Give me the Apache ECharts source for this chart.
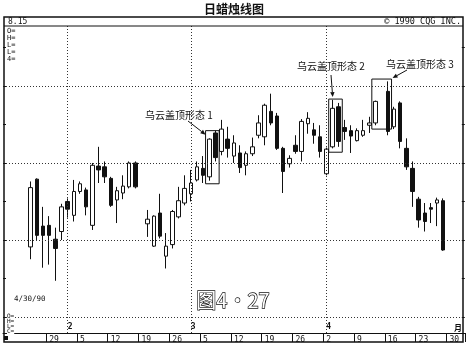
<!DOCTYPE html>
<html><head><meta charset="utf-8">
<script src="https://cdn.jsdelivr.net/npm/echarts@6/dist/echarts.min.js"></script>
<style>html,body{margin:0;padding:0;background:#fff}#c{width:469px;height:348px}</style>
</head><body><div id="c"></div>
<script>
// trading days shown in the window (blank slots = holidays / empty window space)
const categories = ['1/18','1/19','1/22','1/23',
 '1/24','1/25','1/26','1/29','1/30','1/31',
 '2/1','2/2','2/5','2/6','2/7','2/8','2/9','2/12','2/13','2/14','2/15','2/16','2/19','2/20','2/21','2/22','2/23','2/26','2/27','2/28',
 '3/1','3/2','3/5','3/6','3/7','3/8','3/9','3/12','3/13','3/14','3/15','3/16','3/19','3/20','3/21','3/22','3/23','3/26','3/27','3/28','3/29','3/30',
 '4/2','4/3','4/4','4/5','4/6','4/9','4/10','4/11','4/12','4/13','4/16','4/17','4/18','4/19','4/20','4/23','4/24','4/25','4/26','4/27',
 '4/30','5/1','5/2'];
const N = null;
const open = [N,N,N,N,
 109.1,117.9,111.8,111.9,110.1,111.1,115.0,113.2,116.3,116.5,111.9,119.6,119.5,118.0,115.2,116.1,116.9,120.0,N,
 112.1,109.2,113.5,107.9,109.4,113.0,114.8,116.0,117.8,119.3,118.2,123.9,121.5,123.1,120.9,121.3,119.7,121.2,123.6,123.4,
 126.7,126.1,121.9,119.9,122.3,121.5,125.1,124.3,123.4,118.6,122.1,127.3,124.6,124.2,122.9,123.6,124.9,125.2,N,
 129.3,124.7,127.8,121.9,119.3,115.3,113.5,114.2,114.8,115.1,
 N,N,N];
const close = [N,N,N,N,
 116.8,110.6,110.6,110.6,108.9,114.3,114.0,116.3,117.3,114.3,119.7,119.1,118.2,114.5,116.4,117.0,120.0,116.9,N,
 112.7,113.1,110.5,109.2,113.7,115.1,116.7,117.4,119.5,118.4,123.1,120.7,124.4,121.9,122.6,119.4,121.2,122.1,125.2,127.5,
 125.2,121.9,118.9,120.6,121.5,125.4,125.8,123.6,121.5,121.8,127.1,122.8,124.1,123.5,124.2,124.2,125.2,128.0,N,
 124.1,127.0,122.8,119.5,116.3,112.6,112.4,114.0,115.2,108.7,
 N,N,N];
const low = [N,N,N,N,
 107.5,110.0,106.4,106.8,104.7,110.0,112.9,112.4,116.0,113.2,111.3,117.4,117.4,114.3,112.2,115.3,116.7,116.7,N,
 110.4,109.1,110.2,106.3,108.9,112.8,114.5,115.0,117.6,117.4,117.7,120.2,121.0,120.7,120.0,118.7,118.4,120.9,123.2,122.3,
 124.9,121.7,116.1,119.4,121.2,120.2,123.8,122.5,120.7,118.4,121.9,122.1,123.0,121.3,122.8,123.4,123.9,124.9,N,
 123.6,124.4,121.9,119.1,114.3,111.6,111.1,112.2,111.8,108.6,
 N,N,N];
const high = [N,N,N,N,
 117.6,118.0,114.3,113.1,111.6,114.7,115.4,117.8,117.6,116.8,120.0,122.1,120.2,118.2,116.9,118.4,120.2,120.2,N,
 113.9,113.2,116.0,110.9,113.9,116.9,118.4,119.1,120.2,120.9,123.2,124.2,125.6,124.7,123.6,122.3,121.5,123.3,126.2,127.7,
 129.0,126.5,122.1,121.0,123.6,125.7,126.6,125.2,124.9,122.0,128.2,127.8,125.6,124.9,124.5,125.6,126.0,128.1,N,
 130.6,127.3,128.0,123.2,120.2,115.6,114.8,114.8,115.5,115.4,
 N,N,N];

const weekStarts = ['1/29','2/5','2/12','2/19','2/26','3/5','3/12','3/19','3/26','4/2','4/9','4/16','4/23','4/30'];
const weekLabels = ['29','5','12','19','26','5','12','19','26','2','9','16','23','30'];
const monthStarts = ['2/1','3/1','4/2'];
const monthLabels = ['2','3','4'];
const gridValues = [100,110,120,130];
const tickValues = [100,105,110,115,120,125,130,135];

const patterns = [
  {from:'3/6', to:'3/7', low:117.3, high:124.2, label:'乌云盖顶形态 1'},
  {from:'4/3', to:'4/4', low:121.4, high:128.3, label:'乌云盖顶形态 2'},
  {from:'4/12', to:'4/16', low:124.4, high:130.9, label:'乌云盖顶形态 3'}
];

const candles = categories.map((c,i)=> open[i]==null ? '-' : [open[i], close[i], low[i], high[i]]);

const ink = '#111';
const mono = 'DejaVu Sans Mono';
const chart = echarts.init(document.getElementById('c'));

const yCommon = {type:'value', min:97.92, max:137.79, axisLine:{show:false}, axisLabel:{show:false},
  splitLine:{show:false}, axisTick:{show:true, inside:true, length:3, customValues:tickValues, lineStyle:{color:ink}}};

chart.setOption({
  animation:false,
  backgroundColor:'#fff',
  grid:{left:3, right:4.2, top:26, bottom:15, outerBoundsMode:'none', containLabel:false},
  xAxis:[{
    type:'category', data:categories, boundaryGap:true,
    axisLine:{show:true, lineStyle:{color:ink, width:1}},
    axisTick:{show:true, length:9, interval:(i,v)=>weekStarts.includes(v), lineStyle:{color:ink, width:1}},
    axisLabel:{show:true, interval:(i,v)=>weekStarts.includes(v), formatter:v=>weekLabels[weekStarts.indexOf(v)],
      align:'left', margin:3, fontFamily:mono, fontSize:8, color:ink},
    splitLine:{show:false}
  },{
    type:'category', data:categories, position:'bottom', boundaryGap:true,
    axisLine:{show:false}, axisTick:{show:false}, splitLine:{show:false},
    axisLabel:{show:true, inside:true, interval:(i,v)=>monthStarts.includes(v),
      formatter:v=>monthLabels[monthStarts.indexOf(v)], align:'left', margin:2,
      fontFamily:mono, fontWeight:'bold', fontSize:8, color:ink}
  }],
  yAxis:[Object.assign({position:'left'}, yCommon), Object.assign({position:'right'}, yCommon)],
  series:[{
    type:'candlestick', data:candles, barWidth:4,
    itemStyle:{color:'#fff', color0:ink, borderColor:ink, borderColor0:ink, borderWidth:1},
    markLine:{silent:true, symbol:'none', label:{show:false},
      lineStyle:{color:'#333', type:[1,2], width:1},
      data: gridValues.map(v=>({yAxis:v})).concat(monthStarts.map(m=>({xAxis:m})))
    }
  }]
});

function px(cat, val){ return chart.convertToPixel({xAxisIndex:0, yAxisIndex:0}, [cat, val]); }
function arrow(x1,y1,x2,y2){
  const a=Math.atan2(y2-y1,x2-x1), L=5, W=2.2;
  const bx=x2-L*Math.cos(a), by=y2-L*Math.sin(a);
  const nx=-Math.sin(a)*W, ny=Math.cos(a)*W;
  return [{type:'line', shape:{x1:x1,y1:y1,x2:bx,y2:by}, style:{stroke:ink,lineWidth:1}, z:20},
          {type:'polygon', shape:{points:[[x2,y2],[bx+nx,by+ny],[bx-nx,by-ny]]}, style:{fill:ink}, z:20}];
}

const g = [];
g.push({type:'rect', shape:{x:4,y:17,width:459,height:325}, style:{fill:'none', stroke:ink, lineWidth:1.5}, z:20});
g.push({type:'line', shape:{x1:4,y1:26,x2:463,y2:26}, style:{stroke:ink, lineWidth:1}, z:20});
g.push({type:'text', x:234, y:9, style:{text:'日蜡烛线图', font:'bold 12px "Noto Sans CJK SC"', fill:ink, align:'center', verticalAlign:'middle'}, z:20});
g.push({type:'text', x:8, y:22, style:{text:'8.15', font:'8px "DejaVu Sans Mono"', fill:ink, verticalAlign:'middle'}, z:20});
g.push({type:'text', x:461, y:22, style:{text:'© 1990 CQG INC.', font:'8.5px "DejaVu Sans Mono"', fill:ink, align:'right', verticalAlign:'middle'}, z:20});
['O=','H=','L=','L=','4='].forEach((t,i)=>g.push({type:'text', x:7, y:31+i*7, style:{text:t, font:'7px "DejaVu Sans Mono"', fill:ink, verticalAlign:'middle'}, z:20}));
['O=','H=','L=','C='].forEach((t,i)=>g.push({type:'text', x:7, y:316+i*5, style:{text:t, font:'6px "DejaVu Sans Mono"', fill:ink, verticalAlign:'middle', backgroundColor:'#fff'}, z:20}));
g.push({type:'text', x:14, y:299, style:{text:'4/30/90', font:'7.5px "DejaVu Sans Mono"', fill:ink, verticalAlign:'middle'}, z:20});
g.push({type:'text', x:233, y:300, style:{text:'图4・27', font:'20px "Noto Sans CJK SC"', fill:'#fff', stroke:ink, lineWidth:1.3, align:'center', verticalAlign:'middle'}, z:20});
g.push({type:'text', x:458, y:328, style:{text:'月', font:'bold 8px "Noto Sans CJK SC"', fill:ink, align:'center', verticalAlign:'middle'}, z:20});
g.push({type:'rect', shape:{x:4,y:336,width:4,height:4}, style:{fill:ink}, z:20});

const textPos = [[145,115],[297,66],[386,64]];
patterns.forEach((p,i)=>{
  const l = px(p.from, p.high)[0]-3.7, r = px(p.to, p.high)[0]+3.7;
  const t = px(p.from, p.high)[1], b = px(p.from, p.low)[1];
  g.push({type:'rect', shape:{x:l,y:t,width:r-l,height:b-t}, style:{fill:'none', stroke:ink, lineWidth:1}, z:20});
  g.push({type:'text', x:textPos[i][0], y:textPos[i][1], style:{text:p.label, font:'10px "Noto Sans CJK SC"', fill:ink, verticalAlign:'middle'}, z:20});
  let a;
  if(i===0) a = arrow(188,121,l,t+4);
  else if(i===1) a = arrow(331,75,l+4,t-2);
  else a = arrow(407,70,r+1,t-1);
  a.forEach(e=>g.push(e));
});
chart.setOption({graphic:g});
</script></body></html>
